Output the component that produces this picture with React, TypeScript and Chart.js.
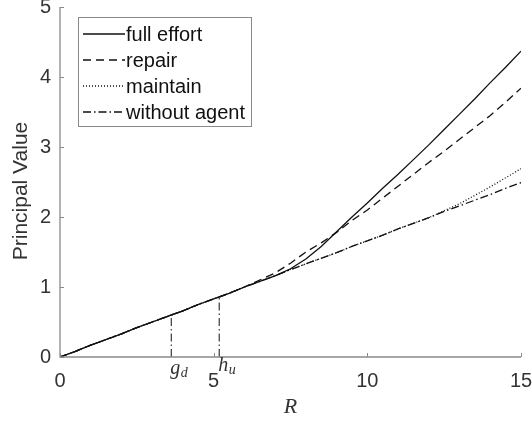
import React, { useEffect, useRef } from "react";
import { Chart, registerables } from "chart.js";
Chart.register(...registerables);

const R = [0, 0.5, 1, 1.5, 2, 2.5, 3, 3.5, 4, 4.5, 5, 5.5, 6, 6.5, 7, 7.5, 8, 8.5, 9, 9.5, 10, 10.5, 11, 11.5, 12, 12.5, 13, 13.5, 14, 14.5, 15];
const withoutAgent = [0, 0.08, 0.17, 0.25, 0.33, 0.42, 0.5, 0.58, 0.66, 0.75, 0.83, 0.91, 1.0, 1.08, 1.16, 1.25, 1.33, 1.41, 1.49, 1.58, 1.66, 1.74, 1.83, 1.91, 1.99, 2.08, 2.16, 2.24, 2.32, 2.41, 2.49];
const maintain = [0, 0.08, 0.17, 0.25, 0.33, 0.42, 0.5, 0.58, 0.66, 0.75, 0.83, 0.91, 1.0, 1.08, 1.16, 1.25, 1.33, 1.41, 1.49, 1.58, 1.66, 1.74, 1.83, 1.91, 1.99, 2.09, 2.19, 2.31, 2.43, 2.56, 2.69];
const repair = [0, 0.08, 0.17, 0.25, 0.33, 0.42, 0.5, 0.58, 0.66, 0.75, 0.83, 0.91, 1.0, 1.1, 1.2, 1.34, 1.5, 1.63, 1.78, 1.95, 2.1, 2.27, 2.44, 2.61, 2.78, 2.94, 3.11, 3.28, 3.45, 3.64, 3.84];
const fullEffort = [0, 0.08, 0.17, 0.25, 0.33, 0.42, 0.5, 0.58, 0.66, 0.75, 0.83, 0.91, 1.0, 1.08, 1.16, 1.26, 1.4, 1.58, 1.79, 2.0, 2.2, 2.41, 2.61, 2.82, 3.03, 3.25, 3.47, 3.69, 3.92, 4.14, 4.37];

const seriesNames = ["full effort", "repair", "maintain", "without agent"];
const seriesDashes: number[][] = [[], [8, 5], [1, 2], [8, 3, 1.5, 3]];
const xTicks = [0, 5, 10, 15];
const yTicks = [0, 1, 2, 3, 4, 5];
const markerX = [3.62, 5.18];
const markerY = [0.6, 0.87];
const markerLabels = [["g", "d"], ["h", "u"]];

const AXIS = "#8a8a8a";
const TEXT = "#333333";
const FONT = "'Liberation Sans', Arial, sans-serif";
const SERIF = "'Liberation Serif', 'Times New Roman', serif";

const decorPlugin = {
  id: "decor",
  afterDraw(chart: any) {
    const { ctx, chartArea, scales } = chart;
    const xs = scales.x, ys = scales.y;
    ctx.save();
    // axes
    ctx.strokeStyle = AXIS;
    ctx.lineWidth = 1.3;
    ctx.setLineDash([]);
    ctx.beginPath();
    ctx.moveTo(chartArea.left, chartArea.top);
    ctx.lineTo(chartArea.left, chartArea.bottom);
    ctx.lineTo(chartArea.right, chartArea.bottom);
    ctx.stroke();
    ctx.lineWidth = 1;
    xTicks.forEach((v) => {
      const px = Math.round(xs.getPixelForValue(v)) + 0.5;
      ctx.beginPath();
      ctx.moveTo(px, chartArea.bottom);
      ctx.lineTo(px, chartArea.bottom - 4);
      ctx.stroke();
    });
    yTicks.forEach((v) => {
      const py = Math.round(ys.getPixelForValue(v)) + 0.5;
      ctx.beginPath();
      ctx.moveTo(chartArea.left, py);
      ctx.lineTo(chartArea.left + 4, py);
      ctx.stroke();
    });
    // axis titles
    ctx.fillStyle = TEXT;
    ctx.font = `italic 22px ${SERIF}`;
    ctx.textAlign = "center";
    ctx.textBaseline = "middle";
    ctx.fillText("R", (chartArea.left + chartArea.right) / 2, 407);
    ctx.save();
    ctx.translate(21, 191);
    ctx.rotate(-Math.PI / 2);
    ctx.font = `21px ${FONT}`;
    ctx.fillText("Principal Value", 0, 0);
    ctx.restore();
    // marker labels
    markerX.forEach((v, i) => {
      const px = xs.getPixelForValue(v);
      const [base, sub] = markerLabels[i];
      ctx.font = `italic 20px ${SERIF}`;
      ctx.textAlign = "left";
      ctx.textBaseline = "alphabetic";
      const bx = px - 1;
      const by = i === 0 ? 374 : 371;
      ctx.fillText(base, bx, by);
      const w = ctx.measureText(base).width;
      ctx.font = `italic 14px ${SERIF}`;
      ctx.fillText(sub, bx + w + 0.5, by + 3);
    });
    // legend
    const lx = chartArea.left + 18, ly = chartArea.top + 10, lw = 173, lh = 109;
    ctx.fillStyle = "#ffffff";
    ctx.fillRect(lx, ly, lw, lh);
    ctx.strokeStyle = AXIS;
    ctx.lineWidth = 1;
    ctx.strokeRect(lx + 0.5, ly + 0.5, lw, lh);
    seriesNames.forEach((name, i) => {
      const y = ly + 17 + i * 26;
      ctx.strokeStyle = "#111111";
      ctx.lineWidth = 1.3;
      ctx.setLineDash(seriesDashes[i]);
      ctx.beginPath();
      ctx.moveTo(lx + 5, y);
      ctx.lineTo(lx + 47, y);
      ctx.stroke();
      ctx.setLineDash([]);
      ctx.fillStyle = "#111111";
      ctx.font = `20px ${FONT}`;
      ctx.textAlign = "left";
      ctx.textBaseline = "middle";
      ctx.fillText(name, lx + 48, y + 1);
    });
    ctx.restore();
  },
};

export default function App() {
  const ref = useRef<HTMLCanvasElement | null>(null);
  useEffect(() => {
    if (!ref.current) return;
    const series = [fullEffort, repair, maintain, withoutAgent];
    const datasets: any[] = series.map((s, i) => ({
      label: seriesNames[i],
      data: R.map((x, j) => ({ x, y: s[j] })),
      borderColor: "#111111",
      borderWidth: 1.3,
      borderDash: seriesDashes[i],
      pointRadius: 0,
      tension: 0,
      fill: false,
    }));
    markerX.forEach((x, i) => {
      datasets.push({
        label: "marker" + i,
        data: [{ x, y: 0 }, { x, y: markerY[i] }],
        borderColor: "#111111",
        borderWidth: 1,
        borderDash: [8, 3, 1.5, 3],
        pointRadius: 0,
        fill: false,
      });
    });
    const chart = new Chart(ref.current, {
      type: "line",
      data: { datasets },
      options: {
        animation: false,
        responsive: false,
        maintainAspectRatio: false,
        layout: { padding: { top: 7, right: 11, left: 0, bottom: 0 } },
        plugins: { legend: { display: false }, tooltip: { enabled: false } },
        scales: {
          x: {
            type: "linear",
            min: 0,
            max: 15,
            afterFit: (s: any) => { s.height = 64; s.paddingLeft = 0; s.paddingRight = 0; },
            afterBuildTicks: (s: any) => { s.ticks = xTicks.map((v) => ({ value: v })); },
            grid: { display: false, drawTicks: false },
            border: { display: false },
            ticks: { color: TEXT, font: { size: 20, family: FONT }, padding: 12, maxRotation: 0 },
          },
          y: {
            type: "linear",
            min: 0,
            max: 5,
            afterFit: (s: any) => { s.width = 60; s.paddingTop = 0; s.paddingBottom = 0; },
            afterBuildTicks: (s: any) => { s.ticks = yTicks.map((v) => ({ value: v })); },
            grid: { display: false, drawTicks: false },
            border: { display: false },
            ticks: { color: TEXT, font: { size: 20, family: FONT }, padding: 9 },
          },
        },
      },
      plugins: [decorPlugin],
    });
    return () => chart.destroy();
  }, []);
  return (
    <div style={{ position: "fixed", left: 0, top: 0, width: 532, height: 421, background: "#fff" }}>
      <canvas ref={ref} width={532} height={421} style={{ width: 532, height: 421 }} />
    </div>
  );
}
